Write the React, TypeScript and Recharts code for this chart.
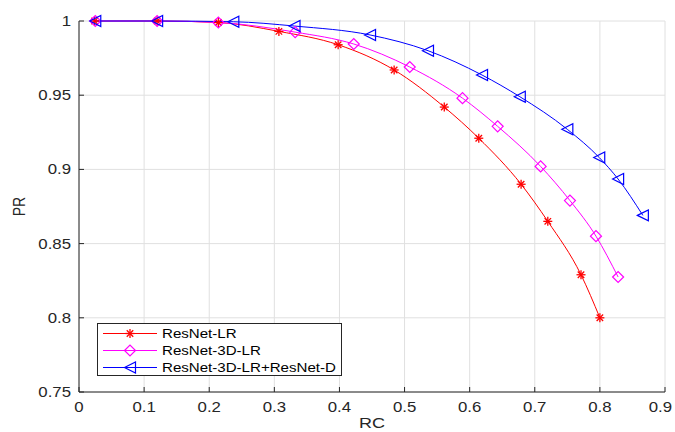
import { CartesianGrid, Legend, Line, LineChart, XAxis, YAxis } from "recharts";

// Precision–recall points, one pair of arrays per method.
const lrRecall = [0.024, 0.12, 0.214, 0.307, 0.398, 0.484, 0.561, 0.614, 0.679, 0.72, 0.771, 0.8];
const lrPrecision = [1.0, 1.0, 0.999, 0.993, 0.984, 0.967, 0.942, 0.921, 0.89, 0.865, 0.829, 0.8];

const lr3dRecall = [0.025, 0.12, 0.214, 0.332, 0.422, 0.508, 0.589, 0.643, 0.709, 0.754, 0.794, 0.828];
const lr3dPrecision = [1.0, 1.0, 0.999, 0.9925, 0.9845, 0.969, 0.948, 0.929, 0.902, 0.879, 0.855, 0.8275];

const fusionRecall = [0.025, 0.12, 0.237, 0.331, 0.447, 0.536, 0.619, 0.677, 0.75, 0.799, 0.828, 0.866];
const fusionPrecision = [1.0, 1.0, 0.9995, 0.9966, 0.9906, 0.98, 0.9636, 0.949, 0.927, 0.908, 0.8935, 0.869];

const seriesNames = ["ResNet-LR", "ResNet-3D-LR", "ResNet-3D-LR+ResNet-D"];
const xTicks = [0, 0.1, 0.2, 0.3, 0.4, 0.5, 0.6, 0.7, 0.8, 0.9];
const yTicks = [0.75, 0.8, 0.85, 0.9, 0.95, 1];

const FONT = '"Liberation Sans", Arial, sans-serif';
const AXIS = "#262626";
const COLORS = ["#ff0000", "#ff00ff", "#0000ff"];
// the source figure is slightly stretched horizontally, text included
const STRETCH = 1.2;
const CHART_W = 675;

const toPoints = (xs: number[], ys: number[]) => xs.map((rc, i) => ({ rc, pr: ys[i] }));

const series = [
  { name: seriesNames[0], color: COLORS[0], marker: "star", data: toPoints(lrRecall, lrPrecision) },
  { name: seriesNames[1], color: COLORS[1], marker: "diamond", data: toPoints(lr3dRecall, lr3dPrecision) },
  { name: seriesNames[2], color: COLORS[2], marker: "triangle", data: toPoints(fusionRecall, fusionPrecision) },
];

function Marker({ kind, cx, cy, color }: { kind: string; cx: number; cy: number; color: string }) {
  if (kind === "star") {
    const r = 4.5;
    const d = r * 0.72;
    return (
      <g stroke={color} strokeWidth={1.3}>
        <line x1={cx - r} y1={cy} x2={cx + r} y2={cy} />
        <line x1={cx} y1={cy - r} x2={cx} y2={cy + r} />
        <line x1={cx - d} y1={cy - d} x2={cx + d} y2={cy + d} />
        <line x1={cx - d} y1={cy + d} x2={cx + d} y2={cy - d} />
      </g>
    );
  }
  if (kind === "diamond") {
    const r = 5.5;
    return (
      <polygon
        points={`${cx - r},${cy} ${cx},${cy - r} ${cx + r},${cy} ${cx},${cy + r}`}
        fill="none"
        stroke={color}
        strokeWidth={1.2}
      />
    );
  }
  const r = 5.5;
  return (
    <polygon
      points={`${cx - r},${cy} ${cx + r},${cy - r} ${cx + r},${cy + r}`}
      fill="none"
      stroke={color}
      strokeWidth={1.2}
    />
  );
}

function XTick({ x, y, payload }: any) {
  const label = String(payload.value);
  // keep the last label inside the picture
  const halfW = (label.length * 0.5 * 14 * STRETCH) / 2;
  const tx = Math.min(x, CHART_W - 2 - halfW);
  return (
    <g>
      <line x1={x} x2={x} y1={y - 9} y2={y - 14} stroke={AXIS} />
      <text
        transform={`translate(${tx},${y}) scale(${STRETCH},1)`}
        dy="0.75em"
        textAnchor="middle"
        fill={AXIS}
        fontSize={14}
        fontFamily={FONT}
      >
        {label}
      </text>
    </g>
  );
}

function YTick({ x, y, payload }: any) {
  return (
    <g>
      <line x1={x + 8} x2={x + 13} y1={y} y2={y} stroke={AXIS} />
      <text
        transform={`translate(${x},${y}) scale(${STRETCH},1)`}
        dy="0.36em"
        textAnchor="end"
        fill={AXIS}
        fontSize={14}
        fontFamily={FONT}
      >
        {String(payload.value)}
      </text>
    </g>
  );
}

function LegendBox() {
  return (
    <div
      style={{
        width: 245,
        height: 53,
        border: `1px solid ${AXIS}`,
        background: "#fff",
        boxSizing: "border-box",
        fontFamily: FONT,
        fontSize: 13,
        color: "#000",
        paddingTop: 1,
      }}
    >
      {series.map((s) => (
        <div key={s.name} style={{ display: "flex", alignItems: "center", height: 17 }}>
          <svg width={64} height={17} style={{ flex: "none" }}>
            <line x1={5} x2={59} y1={8.5} y2={8.5} stroke={s.color} strokeWidth={1} />
            <Marker kind={s.marker} cx={32} cy={8.5} color={s.color} />
          </svg>
          <span
            style={{
              lineHeight: "17px",
              whiteSpace: "nowrap",
              display: "inline-block",
              transform: "scaleX(1.16)",
              transformOrigin: "left center",
            }}
          >
            {s.name}
          </span>
        </div>
      ))}
    </div>
  );
}

export default function App() {
  return (
    <div style={{ position: "absolute", left: 0, top: 0, width: CHART_W, height: 432, background: "#fff" }}>
      <LineChart width={CHART_W} height={432} margin={{ top: 21, right: 10, left: 0, bottom: 0 }}>
        <CartesianGrid stroke="#e0e0e0" verticalValues={xTicks} horizontalValues={yTicks} />
        <XAxis
          type="number"
          dataKey="rc"
          domain={[0, 0.9]}
          ticks={xTicks}
          interval={0}
          allowDuplicatedCategory={false}
          height={40}
          tickSize={0}
          tickMargin={9}
          tick={<XTick />}
          axisLine={{ stroke: AXIS }}
          label={{
            content: ({ viewBox }: any) => (
              <text
                transform={`translate(${viewBox.x + viewBox.width / 2},${viewBox.y + 36}) scale(${STRETCH},1)`}
                textAnchor="middle"
                fontSize={15}
                fill={AXIS}
                fontFamily={FONT}
              >
                RC
              </text>
            ),
          }}
        />
        <YAxis
          type="number"
          dataKey="pr"
          domain={[0.75, 1]}
          ticks={yTicks}
          interval={0}
          width={79}
          tickSize={0}
          tickMargin={8}
          tick={<YTick />}
          axisLine={{ stroke: AXIS }}
          label={{
            content: ({ viewBox }: any) => (
              <text
                transform={`translate(${viewBox.x + 19},${viewBox.y + viewBox.height / 2}) scale(${STRETCH},1) rotate(-90)`}
                textAnchor="middle"
                dominantBaseline="central"
                fontSize={14}
                fill={AXIS}
                fontFamily={FONT}
              >
                PR
              </text>
            ),
          }}
        />
        <Legend
          layout="horizontal"
          align="center"
          verticalAlign="middle"
          content={<LegendBox />}
          wrapperStyle={{ left: 97, top: 323, right: "auto", bottom: "auto", width: 245 }}
        />
        {series.map((s) => (
          <Line
            key={s.name}
            data={s.data}
            dataKey="pr"
            name={s.name}
            type="monotone"
            stroke={s.color}
            strokeWidth={1}
            dot={(p: any) => <Marker key={`${s.name}-${p.index}`} kind={s.marker} cx={p.cx} cy={p.cy} color={s.color} />}
            activeDot={false}
            isAnimationActive={false}
          />
        ))}
      </LineChart>
    </div>
  );
}
